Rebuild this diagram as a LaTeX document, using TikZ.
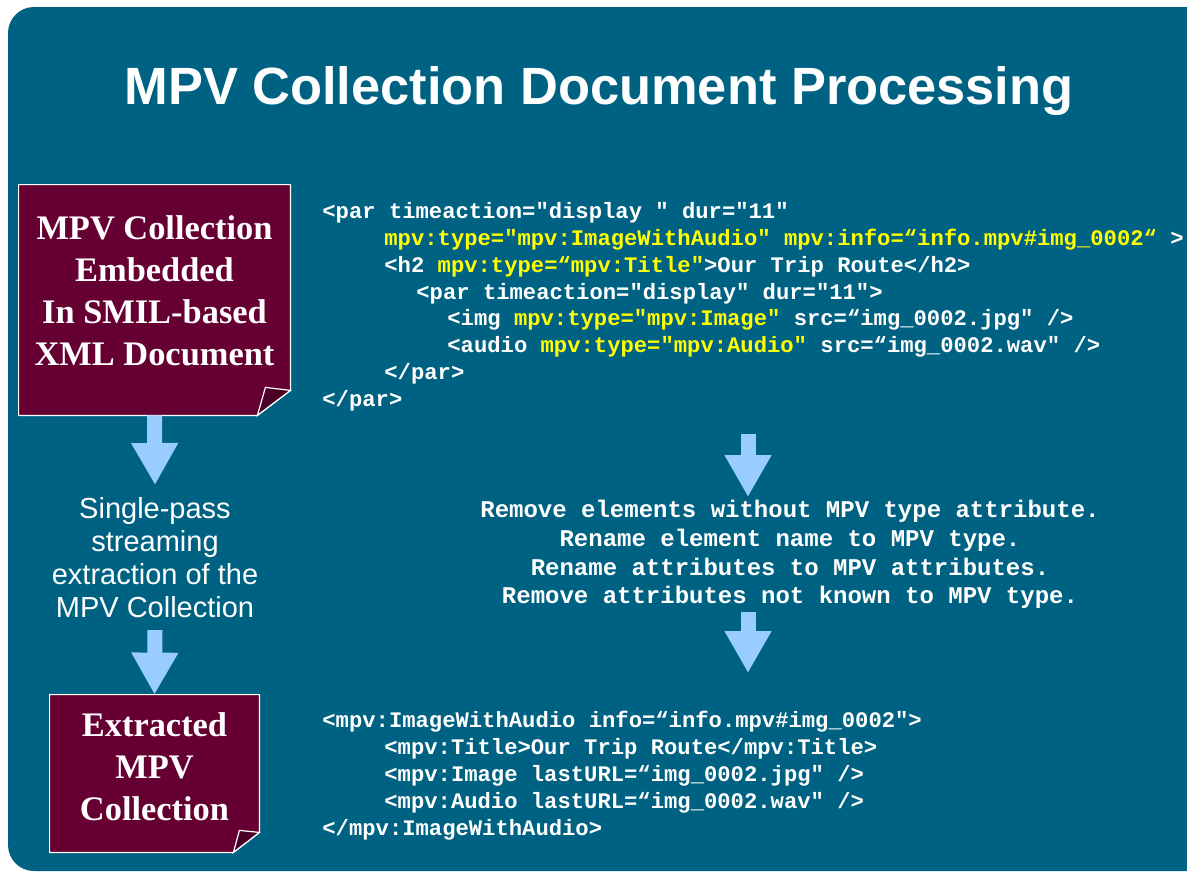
\documentclass[tikz,border=0pt]{standalone}
\usepackage{fontspec}
\setmainfont{Liberation Serif}
\newfontfamily\arialfont{Liberation Sans}
\newfontfamily\codefont{Liberation Mono}
\usepackage{tikz}
\usetikzlibrary{arrows.meta, backgrounds}

\definecolor{bgteal}{RGB}{0,98,130}
\definecolor{boxred}{RGB}{102,0,51}
\definecolor{foldred}{RGB}{74,0,37}
\definecolor{arrowblue}{RGB}{153,204,255}
\definecolor{hlyellow}{RGB}{255,255,0}
\newcommand{\hl}[1]{{\color{hlyellow}#1}}

\tikzset{
  headline/.style={anchor=base, text=white, inner sep=0pt, font=\arialfont\bfseries\fontsize{26.2}{30}\selectfont},
  docbox/.style={text=white, align=center, inner sep=0pt, font=\bfseries\fontsize{17.2}{21}\selectfont},
  stepnote/.style={text=white, align=center, inner xsep=0pt, inner ysep=6pt, font=\arialfont\fontsize{14.5}{16.5}\selectfont},
  codeline/.style={anchor=base west, inner sep=0pt, text=white, font=\codefont\bfseries\fontsize{11.1}{13}\selectfont},
  ruletext/.style={text=white, align=center, inner xsep=0pt, inner ysep=1.5pt, font=\codefont\bfseries\fontsize{12}{14.35}\selectfont},
  bigarrow/.style={draw=arrowblue, line width=7.5pt, -{Triangle[length=21pt, width=22pt]}},
  boxedge/.style={fill=boxred, draw=white, line width=0.6pt},
  foldedge/.style={fill=foldred, draw=white, line width=0.6pt}
}

\begin{document}
\begin{tikzpicture}[x=0.5pt, y=-0.5pt]
    \useasboundingbox (0,0) rectangle (1187,873);

    % draw the slide background
    \begin{scope}[on background layer]
      \fill[white] (0,0) rectangle (1187,873);
      \fill[bgteal, rounded corners=13pt] (8,7) rectangle (1215,871);
    \end{scope}

    % title
    \node[headline] (title) at (599,104) {MPV Collection Document Processing};

    % left column: the two documents and the step between them
    \node[docbox, minimum width=135.5pt, minimum height=115pt, text depth=9.75pt] (box1) at (154.5,300)
      {MPV Collection\\Embedded\\In SMIL-based\\XML Document};
    \node[stepnote, anchor=north] (note) at (155,485)
      {Single-pass\\streaming\\extraction of the\\MPV Collection};
    \node[docbox, minimum width=104.5pt, minimum height=78.5pt, text depth=6.5pt] (box2) at (154.5,773.5)
      {Extracted\\MPV\\Collection};

    % draw the document shapes with a folded corner
    \begin{scope}[on background layer]
      \draw[boxedge] (box1.north west) -- (box1.north east) -- ([yshift=12.5pt]box1.south east)
        -- ([xshift=-16.5pt]box1.south east) -- (box1.south west) -- cycle;
      \draw[foldedge] ([xshift=-16.5pt]box1.south east) -- ([xshift=-12.5pt, yshift=14pt]box1.south east)
        -- ([yshift=12.5pt]box1.south east) -- cycle;
      \draw[boxedge] (box2.north west) -- (box2.north east) -- ([yshift=10pt]box2.south east)
        -- ([xshift=-13pt]box2.south east) -- (box2.south west) -- cycle;
      \draw[foldedge] ([xshift=-13pt]box2.south east) -- ([xshift=-10pt, yshift=11pt]box2.south east)
        -- ([yshift=10pt]box2.south east) -- cycle;
    \end{scope}

    % source document
    \node[codeline] (src1) at (322,218) {<par timeaction="display " dur="11"};
    \node[codeline] (src2) at (384,245) {\hl{mpv:type="mpv:ImageWithAudio" mpv:info=“info.mpv\#img\_0002“} >};
    \node[codeline] (src3) at (384,272) {<h2 \hl{mpv:type=“mpv:Title"}>Our Trip Route</h2>};
    \node[codeline] (src4) at (416,299) {<par timeaction="display" dur="11">};
    \node[codeline] (src5) at (447,325) {<img \hl{mpv:type="mpv:Image"} src=“img\_0002.jpg" />};
    \node[codeline] (src6) at (447,352) {<audio \hl{mpv:type="mpv:Audio"} src=“img\_0002.wav" />};
    \node[codeline] (src7) at (384,379) {</par>};
    \node[codeline] (src8) at (322,406) {</par>};

    % processing rules
    \node[ruletext, anchor=north] (rules) at (790,497)
      {Remove elements without MPV type attribute.\\
       Rename element name to MPV type.\\
       Rename attributes to MPV attributes.\\
       Remove attributes not known to MPV type.};

    % extracted collection
    \node[codeline] (out1) at (322,727) {<mpv:ImageWithAudio info=“info.mpv\#img\_0002">};
    \node[codeline] (out2) at (384,754) {<mpv:Title>Our Trip Route</mpv:Title>};
    \node[codeline] (out3) at (384,781) {<mpv:Image lastURL=“img\_0002.jpg" />};
    \node[codeline] (out4) at (384,808) {<mpv:Audio lastURL=“img\_0002.wav" />};
    \node[codeline] (out5) at (322,835) {</mpv:ImageWithAudio>};

    % arrows
    \coordinate (srctail) at (748,434);
    \coordinate (outhead) at (748,673);
    \draw[bigarrow] (box1.south) -- (note.north);
    \draw[bigarrow] (note.south) -- (box2.north);
    \draw[bigarrow] (srctail) -- (srctail |- rules.north);
    \draw[bigarrow] (srctail |- rules.south) -- (outhead);

\end{tikzpicture}
\end{document}
